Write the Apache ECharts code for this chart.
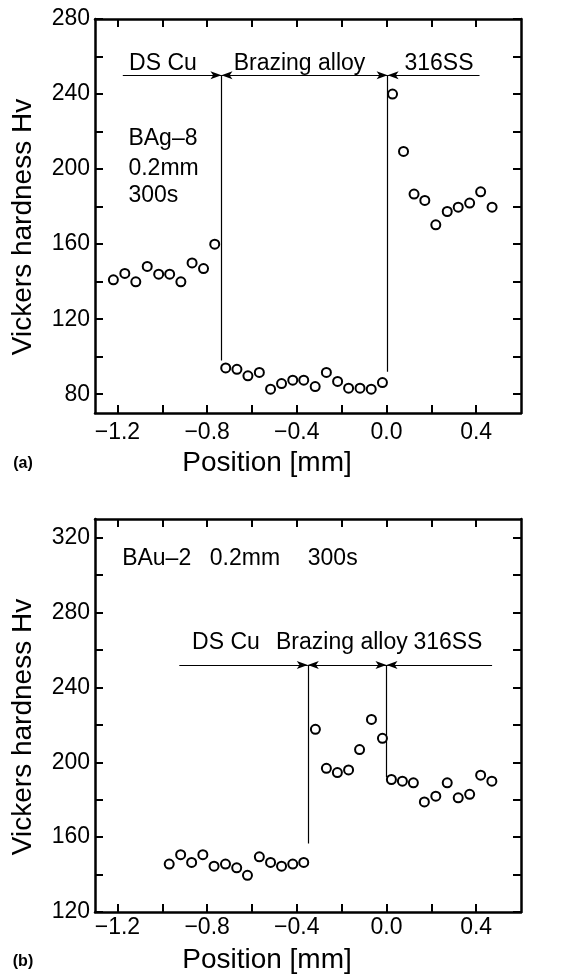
<!DOCTYPE html>
<html lang="en">
<head>
<meta charset="UTF-8">
<title>Vickers hardness profiles</title>
<style>
  html, body { margin: 0; padding: 0; background: #fff; }
  #main { width: 566px; height: 974px; }
</style>
<script src="https://cdn.jsdelivr.net/npm/echarts@6/dist/echarts.min.js"></script>
</head>
<body>
<div id="main"></div>
<script>
// axis ticks
var xTicks = [-1.2, -1.0, -0.8, -0.6, -0.4, -0.2, 0.0, 0.2, 0.4];
var xLabels = [-1.2, -0.8, -0.4, 0.0, 0.4];
var aYTicks = [80, 100, 120, 140, 160, 180, 200, 220, 240, 260, 280];
var aYLabels = [80, 120, 160, 200, 240, 280];
var bYTicks = [120, 140, 160, 180, 200, 220, 240, 260, 280, 300, 320];
var bYLabels = [120, 160, 200, 240, 280, 320];

// (a) BAg-8 : position [mm], hardness Hv
var aPos = [-1.218, -1.167, -1.118, -1.067, -1.016, -0.967, -0.917, -0.867, -0.816, -0.766,
            -0.717, -0.667, -0.618, -0.567, -0.517, -0.468, -0.418, -0.369, -0.318, -0.268,
            -0.218, -0.169, -0.118, -0.068, -0.018,
            0.027, 0.076, 0.123, 0.171, 0.220, 0.271, 0.320, 0.371, 0.420, 0.471];
var aHv = [141, 144.4, 139.9, 148.1, 144, 144, 139.9, 150, 147, 160,
           94, 93.3, 89.8, 91.6, 82.7, 85.7, 87.5, 87.5, 84.1, 91.6,
           86.8, 83.2, 83.2, 82.7, 86.2,
           240, 209.4, 186.7, 183.3, 170.3, 177.4, 179.7, 181.9, 187.9, 179.7];

// (b) BAu-2
var bPos = [-0.969, -0.918, -0.869, -0.819, -0.769, -0.718, -0.668, -0.620, -0.567, -0.517,
            -0.468, -0.418, -0.369,
            -0.317, -0.268, -0.219, -0.169, -0.120, -0.067, -0.018,
            0.022, 0.071, 0.120, 0.169, 0.220, 0.271, 0.320, 0.371, 0.420, 0.470];
var bHv = [145.6, 150.6, 146.5, 150.6, 144.5, 145.6, 143.6, 139.6, 149.5, 146.5,
           144.5, 145.6, 146.5,
           217.6, 196.8, 194.5, 195.9, 206.8, 222.9, 212.8,
           190.8, 189.9, 189, 178.8, 181.9, 189, 181, 182.9, 193.1, 189.9];

// zone annotations
var zoneNames = ['DS Cu', 'Brazing alloy', '316SS'];
var aZoneX = [-0.997, -0.388, 0.234], aZoneY = 256;
var bZoneX = [-0.716, -0.199, 0.274], bZoneY = 264;
var aDiv = [-0.736, 0.005], aDivBottom = [98, 92], aArrowY = 250, aArrowEnds = [-1.176, 0.415];
var bDiv = [-0.351, 0.0], bDivBottom = [156.6, 192], bArrowY = 252, bArrowEnds = [-0.924, 0.471];

var aCond = ['BAg–8', '0.2mm', '300s'], aCondX = [-1.151, -1.151, -1.151], aCondY = [216, 200, 185.6];
var bCond = ['BAu–2', '0.2mm', '300s'], bCondX = [-1.179, -0.788, -0.351], bCondY = [309, 309, 309];

var FONT = '"Liberation Sans", Arial, sans-serif';

function fmtX(v) {
  return v.toFixed(1).replace('-', '\u2212');
}

function xAx(grid, pos, showLabel, margin) {
  return {
    type: 'value', gridIndex: grid, position: pos, min: -1.3, max: 0.6,
    axisLine: { show: true, onZero: false, lineStyle: { color: '#000', width: 2.5 } },
    axisTick: { show: true, inside: true, length: 8, customValues: xTicks, lineStyle: { color: '#000', width: 2 } },
    axisLabel: { show: showLabel, customValues: xLabels, margin: margin, formatter: fmtX,
                 color: '#000', fontSize: 23, fontFamily: FONT },
    splitLine: { show: false }
  };
}

function yAx(grid, pos, showLabel, min, max, ticks, labels) {
  return {
    type: 'value', gridIndex: grid, position: pos, min: min, max: max,
    axisLine: { show: true, onZero: false, lineStyle: { color: '#000', width: 2.5 } },
    axisTick: { show: true, inside: true, length: 8, customValues: ticks, lineStyle: { color: '#000', width: 2 } },
    axisLabel: { show: showLabel, customValues: labels, margin: 5,
                 color: '#000', fontSize: 23, fontFamily: FONT },
    splitLine: { show: false }
  };
}

function bracket(divs, bottoms, yTop, ends) {
  var d = [];
  d.push([{ coord: [ends[0], yTop], symbol: 'none' }, { coord: [divs[0], yTop], symbol: 'arrow' }]);
  d.push([{ coord: [divs[0], yTop], symbol: 'arrow' }, { coord: [divs[1], yTop], symbol: 'arrow' }]);
  d.push([{ coord: [divs[1], yTop], symbol: 'arrow' }, { coord: [ends[1], yTop], symbol: 'none' }]);
  for (var i = 0; i < divs.length; i++) {
    d.push([{ coord: [divs[i], yTop], symbol: 'none' }, { coord: [divs[i], bottoms[i]], symbol: 'none' }]);
  }
  return d;
}

function pts(xs, ys) {
  return xs.map(function (x, i) { return [x, ys[i]]; });
}

function labelData(names, xs, ys, align) {
  return names.map(function (n, i) {
    return { name: n, value: [xs[i], ys[i]], label: { align: align } };
  });
}

function scatter(xi, yi, xs, ys, divs, bottoms, yTop, ends) {
  return {
    type: 'scatter', xAxisIndex: xi, yAxisIndex: yi,
    data: pts(xs, ys),
    symbol: 'emptyCircle', symbolSize: 9,
    itemStyle: { color: '#000', borderColor: '#000', borderWidth: 2, opacity: 1 },
    z: 5,
    markLine: {
      silent: true, animation: false,
      symbolSize: [6, 11],
      label: { show: false },
      lineStyle: { color: '#000', width: 1.2, type: 'solid' },
      emphasis: { disabled: true },
      data: bracket(divs, bottoms, yTop, ends)
    }
  };
}

function textSeries(xi, yi, data) {
  return {
    type: 'scatter', xAxisIndex: xi, yAxisIndex: yi, silent: true,
    symbolSize: 0, data: data,
    label: { show: true, position: 'inside', formatter: '{b}', color: '#000',
             textBorderWidth: 0, opacity: 1, fontSize: 23, fontFamily: FONT }
  };
}

var myChart = echarts.init(document.getElementById('main'));

var option = {
  animation: false,
  backgroundColor: '#fff',
  grid: [
    { left: 95, top: 19, right: 45, height: 394 },
    { left: 95, top: 519, right: 45, height: 393 }
  ],
  xAxis: [
    xAx(0, 'bottom', true, 8),
    xAx(0, 'top', false, 8),
    xAx(1, 'bottom', true, 4),
    xAx(1, 'top', false, 4)
  ],
  yAxis: [
    yAx(0, 'left', true, 70, 280, aYTicks, aYLabels),
    yAx(0, 'right', false, 70, 280, aYTicks, aYLabels),
    yAx(1, 'left', true, 120, 330, bYTicks, bYLabels),
    yAx(1, 'right', false, 120, 330, bYTicks, bYLabels)
  ],
  series: [
    scatter(0, 0, aPos, aHv, aDiv, aDivBottom, aArrowY, aArrowEnds),
    scatter(2, 2, bPos, bHv, bDiv, bDivBottom, bArrowY, bArrowEnds),
    textSeries(0, 0, labelData(zoneNames, aZoneX, [aZoneY, aZoneY, aZoneY], 'center')
      .concat(labelData(aCond, aCondX, aCondY, 'left'))),
    textSeries(2, 2, labelData(zoneNames, bZoneX, [bZoneY, bZoneY, bZoneY], 'center')
      .concat(labelData(bCond, bCondX, bCondY, 'left')))
  ],
  graphic: [
    { type: 'text', x: 23, y: 227, rotation: Math.PI / 2,
      style: { text: 'Vickers hardness Hv', font: '28px ' + FONT, fill: '#000', align: 'center', verticalAlign: 'middle' } },
    { type: 'text', x: 267, y: 463,
      style: { text: 'Position [mm]', font: '28px ' + FONT, fill: '#000', align: 'center', verticalAlign: 'middle' } },
    { type: 'text', x: 23, y: 464,
      style: { text: '(a)', font: 'bold 16px ' + FONT, fill: '#000', align: 'center', verticalAlign: 'middle' } },
    { type: 'text', x: 23, y: 727, rotation: Math.PI / 2,
      style: { text: 'Vickers hardness Hv', font: '28px ' + FONT, fill: '#000', align: 'center', verticalAlign: 'middle' } },
    { type: 'text', x: 267, y: 960,
      style: { text: 'Position [mm]', font: '28px ' + FONT, fill: '#000', align: 'center', verticalAlign: 'middle' } },
    { type: 'text', x: 23, y: 962,
      style: { text: '(b)', font: 'bold 16px ' + FONT, fill: '#000', align: 'center', verticalAlign: 'middle' } }
  ]
};

myChart.setOption(option);
</script>
</body>
</html>
